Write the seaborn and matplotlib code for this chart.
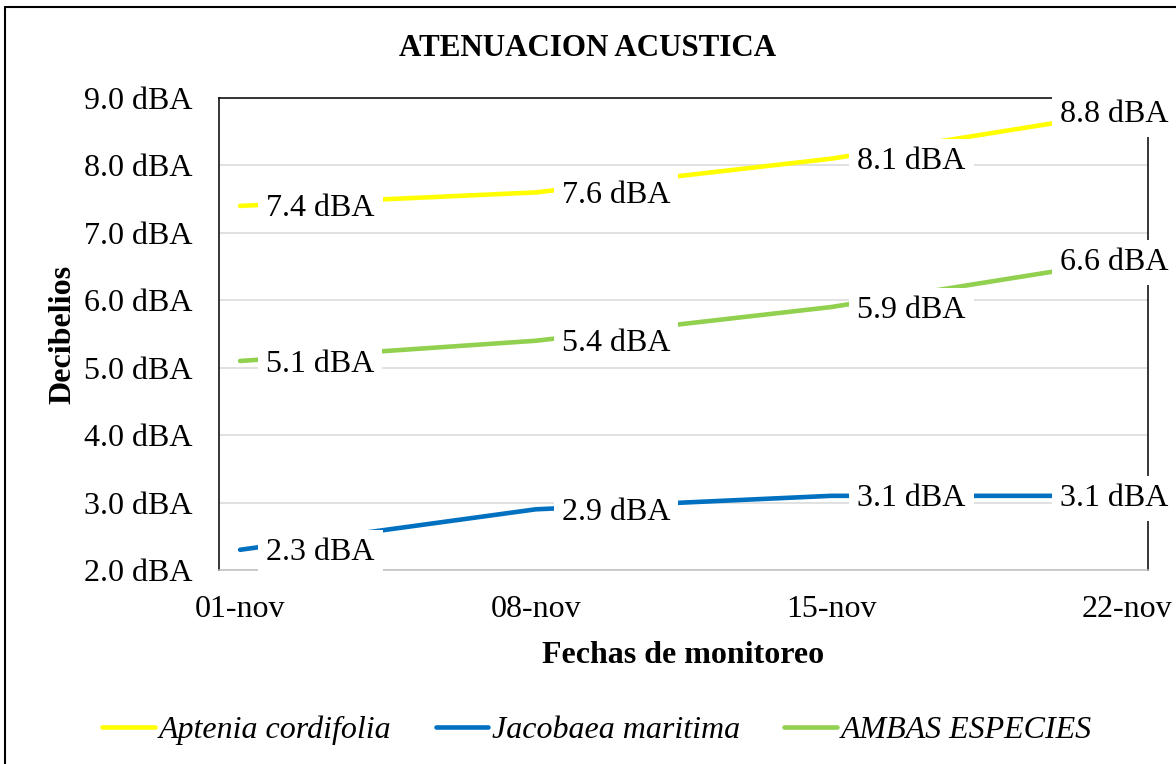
import pandas as pd
import numpy as np
import matplotlib
matplotlib.use('Agg')
import matplotlib.pyplot as plt
import matplotlib.dates as mdates
from matplotlib.lines import Line2D
import seaborn as sns

# Datos del grafico
fechas = ['2023-11-01', '2023-11-08', '2023-11-15', '2023-11-22']
etiquetas_x = ['01-nov', '08-nov', '15-nov', '22-nov']
aptenia = [7.4, 7.6, 8.1, 8.8]
jacobaea = [2.3, 2.9, 3.1, 3.1]
ambas = [5.1, 5.4, 5.9, 6.6]
series = ['Aptenia cordifolia', 'Jacobaea maritima', 'AMBAS ESPECIES']
colores = ['#FFFF00', '#0070C0', '#92D050']

df = pd.DataFrame({
    'Fecha': pd.to_datetime(fechas * 3),
    'Serie': [s for s in series for _ in fechas],
    'dBA': aptenia + jacobaea + ambas,
})

sns.set_style('white')
plt.rcParams['font.family'] = ['Liberation Serif', 'DejaVu Serif']
plt.rcParams['text.color'] = 'black'
plt.rcParams['axes.labelcolor'] = 'black'
plt.rcParams['xtick.labelcolor'] = 'black'
plt.rcParams['ytick.labelcolor'] = 'black'

fig = plt.figure(figsize=(11.76, 7.64), dpi=100)
ax = fig.add_axes([219/1176, 1 - 570/764, (1148 - 219)/1176, (570 - 98)/764])

sns.lineplot(data=df, x='Fecha', y='dBA', hue='Serie', palette=colores,
             linewidth=3.3, ax=ax, legend=False, sort=False)

# Eje X tipo fecha (estilo Excel: marcas entre dias)
xnum = mdates.date2num(pd.to_datetime(fechas))
ax.set_xlim(xnum[0] - 0.5, xnum[-1] + 0.5)
ax.set_xticks(xnum)
ax.set_xticklabels(etiquetas_x)
ax.set_xticks(xnum - 0.5, minor=True)
ax.tick_params(axis='x', which='major', length=0, pad=18, labelsize=23)
ax.tick_params(axis='x', which='minor', length=5, width=1, color='#BFBFBF')

# Eje Y
ax.set_ylim(2, 9)
ax.set_yticks(np.arange(2, 10, 1))
ax.yaxis.set_major_formatter(plt.FuncFormatter(lambda y, _: f'{y:.1f} dBA'))
ax.tick_params(axis='y', length=0, pad=19, labelsize=23)
ax.yaxis.grid(True, color='#D9D9D9', linewidth=1.1)
ax.set_axisbelow(True)

for s in ['left', 'right', 'top']:
    ax.spines[s].set_color('black')
    ax.spines[s].set_linewidth(1.1)
ax.spines['bottom'].set_color('#BFBFBF')
ax.spines['bottom'].set_linewidth(1.1)

ax.set_xlabel('Fechas de monitoreo', fontsize=23, fontweight='bold')
ax.set_ylabel('Decibelios', fontsize=23, fontweight='bold')
ax.xaxis.set_label_coords(0.5, -0.151)
ax.yaxis.set_label_coords(-0.152, 0.5)

# Etiquetas de datos con fondo blanco
valores = [aptenia, jacobaea, ambas]
for vals in valores:
    for i, (x, v) in enumerate(zip(xnum, vals)):
        if i == len(vals) - 1:
            off, ha = 30, 'right'
        else:
            off, ha = 18.7, 'left'
        ax.annotate(f'{v:.1f} dBA', xy=(x, v), xytext=(off, -2.2),
                    textcoords='offset points', ha=ha, va='center',
                    fontsize=23, annotation_clip=False, zorder=5,
                    bbox=dict(boxstyle='square,pad=0.25', fc='white', ec='none'))

fig.text(0.5, 1 - 49/764, 'ATENUACION ACUSTICA', ha='center', va='center',
         fontsize=22.3, fontweight='bold')

handles = [Line2D([], [], color=c, linewidth=3.3) for c in colores]
fig.legend(handles, series, loc='center', bbox_to_anchor=(597/1176, 1 - 730/764),
           ncol=3, frameon=False, handlelength=1.65, handletextpad=0.1,
           columnspacing=1.4, prop={'size': 23, 'style': 'italic'})

# Marco exterior del grafico
fig.add_artist(Line2D([5/1176, 5/1176], [0, 1 - 7/764], color='black', linewidth=1.5))
fig.add_artist(Line2D([5/1176, 1], [1 - 7/764, 1 - 7/764], color='black', linewidth=1.5))

fig.savefig('out.png', dpi=100)
